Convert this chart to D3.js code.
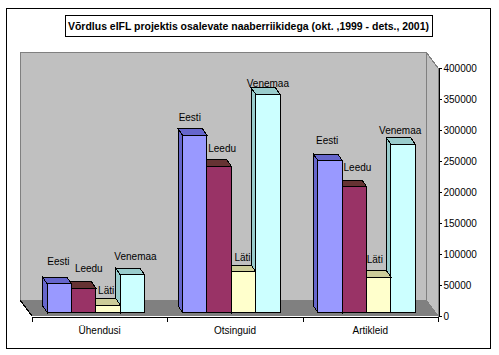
<!DOCTYPE html>
<html>
<head>
<meta charset="utf-8">
<script src="https://cdn.jsdelivr.net/npm/d3@7"></script>
<style>
  html, body { margin: 0; padding: 0; background: #fff; }
  svg { display: block; }
  text { font-family: "Liberation Sans", Arial, sans-serif; font-size: 10px; fill: #000; }
</style>
</head>
<body>
<div id="chart"></div>
<script>
const categories = ["Ühendusi", "Otsinguid", "Artikleid"];
const countries = ["Eesti", "Leedu", "Läti", "Venemaa"];
const eesti = [46000, 286000, 245000];
const leedu = [39000, 236000, 203000];
const lati = [12000, 66000, 57000];
const venemaa = [60500, 352000, 271000];
const yTicks = [0, 50000, 100000, 150000, 200000, 250000, 300000, 350000, 400000];
const titleText = "Võrdlus eIFL projektis osalevate naaberriikidega (okt. ,1999 - dets., 2001)";

const seriesValues = [eesti, leedu, lati, venemaa];
const faceColors = ["#9999FF", "#993366", "#FFFFCC", "#CCFFFF"];
const topColors = ["#6666CC", "#663333", "#CCCC99", "#99CCCC"];

// hand placed data labels in the original, offset from top centre of the bar
const labelNudge = [
    [[-1, -19], [5, -16], [-2, -11], [3, -15]],
    [[-5, -14], [3, -14], [-1, -11], [0, -7]],
    [[-3, -17], [3, -16], [-4, -14], [-3, -10]]
];

const width = 499, height = 355;
const plotLeft = 32, plotRight = 438, plotTop = 68, plotBottom = 316;
const wallDx = 12, wallDy = 16;      // depth of the walls
const barDx = 4.5, barDy = 6.5;      // depth of one bar
const planeDx = -3.7, planeDy = -3.5; // bars stand a bit behind the axis

const svg = d3.select("#chart").append("svg")
    .attr("width", width)
    .attr("height", height)
    .attr("shape-rendering", "crispEdges");

// outer frame
svg.append("rect")
    .attr("x", 6.5).attr("y", 8.5)
    .attr("width", 484).attr("height", 340)
    .attr("fill", "#fff").attr("stroke", "#000");

// Scales
const x = d3.scaleBand().domain(categories).range([plotLeft, plotRight])
    .paddingInner(0.28).paddingOuter(0.14);
const xCat = d3.scaleBand().domain(categories).range([plotLeft, plotRight]);
const xSeries = d3.scaleBand().domain(countries).range([0, x.bandwidth()]);
const y = d3.scaleLinear().domain([0, 400000]).range([plotBottom, plotTop]);

const poly = pts => pts.map(p => p.join(",")).join(" ");

// Walls and floor
const walls = svg.append("g");
walls.append("polygon")
    .attr("points", poly([[plotLeft - wallDx, plotTop - wallDy], [plotRight - wallDx, plotTop - wallDy], [plotRight - wallDx, plotBottom - wallDy], [plotLeft - wallDx, plotBottom - wallDy]]))
    .attr("fill", "#C0C0C0").attr("stroke", "#808080");
walls.append("polygon")
    .attr("points", poly([[plotRight - wallDx, plotTop - wallDy], [plotRight, plotTop], [plotRight, plotBottom], [plotRight - wallDx, plotBottom - wallDy]]))
    .attr("fill", "#C0C0C0").attr("stroke", "#808080");
svg.append("polygon")
    .attr("points", poly([[plotLeft - wallDx, plotBottom - wallDy], [plotRight - wallDx, plotBottom - wallDy], [plotRight, plotBottom], [plotLeft, plotBottom]]))
    .attr("fill", "#808080");
svg.append("line")
    .attr("x1", plotLeft - wallDx).attr("y1", plotBottom - wallDy)
    .attr("x2", plotLeft).attr("y2", plotBottom)
    .attr("stroke", "#000");

// Bars, drawn right to left so the left neighbour covers the side face
const bars = svg.append("g")
    .attr("transform", `translate(${planeDx},${planeDy})`)
    .attr("stroke", "#000").attr("stroke-width", 1).attr("stroke-linejoin", "miter");

categories.forEach((cat, c) => {
    d3.range(countries.length - 1, -1, -1).forEach(s => {
        const x0 = x(cat) + xSeries(countries[s]);
        const x1 = x0 + xSeries.bandwidth();
        const yTop = y(seriesValues[s][c]);
        const g = bars.append("g");
        // side face
        g.append("polygon")
            .attr("points", poly([[x0, yTop], [x0 - barDx, yTop - barDy], [x0 - barDx, y(0) - barDy], [x0, y(0)]]))
            .attr("fill", topColors[s]);
        // top face
        g.append("polygon")
            .attr("points", poly([[x0, yTop], [x0 - barDx, yTop - barDy], [x1 - barDx, yTop - barDy], [x1, yTop]]))
            .attr("fill", topColors[s]);
        // front face
        g.append("rect")
            .attr("x", x0).attr("y", yTop)
            .attr("width", x1 - x0).attr("height", y(0) - yTop)
            .attr("fill", faceColors[s]);
    });
});

// Data labels
categories.forEach((cat, c) => {
    countries.forEach((name, s) => {
        const [nx, ny] = labelNudge[c][s];
        svg.append("text")
            .attr("x", x(cat) + xSeries(name) + xSeries.bandwidth() / 2 + planeDx + nx)
            .attr("y", y(seriesValues[s][c]) + planeDy + ny)
            .attr("text-anchor", "middle")
            .text(name);
    });
});

// Value axis
const yAxis = svg.append("g")
    .attr("transform", `translate(${plotRight + 0.5},0)`)
    .call(d3.axisRight(y).tickValues(yTicks).tickSize(3).tickPadding(2).tickFormat(d3.format("d")));
yAxis.selectAll("text").style("font-size", "10px").style("font-family", "'Liberation Sans', Arial, sans-serif");
yAxis.select(".domain").attr("stroke", "#000");

// Category axis
const xAxis = svg.append("g")
    .attr("transform", `translate(0,${plotBottom + 0.5})`)
    .call(d3.axisBottom(xCat).tickSize(0).tickPadding(10));
xAxis.selectAll("text").style("font-size", "10px").style("font-family", "'Liberation Sans', Arial, sans-serif");
xAxis.select(".domain").attr("stroke", "#000");
xAxis.selectAll(".edge")
    .data(categories.map(c => xCat(c)).concat([plotRight]))
    .enter().append("line")
    .attr("class", "edge")
    .attr("x1", d => d + 0.5).attr("x2", d => d + 0.5)
    .attr("y1", 0).attr("y2", 5)
    .attr("stroke", "#000");

// Title
svg.append("rect")
    .attr("x", 65.5).attr("y", 15.5)
    .attr("width", 367).attr("height", 21)
    .attr("fill", "#fff").attr("stroke", "#000");
svg.append("text")
    .attr("x", 68).attr("y", 30)
    .attr("textLength", 361).attr("lengthAdjust", "spacingAndGlyphs")
    .style("font-weight", "bold")
    .text(titleText);
</script>
</body>
</html>
